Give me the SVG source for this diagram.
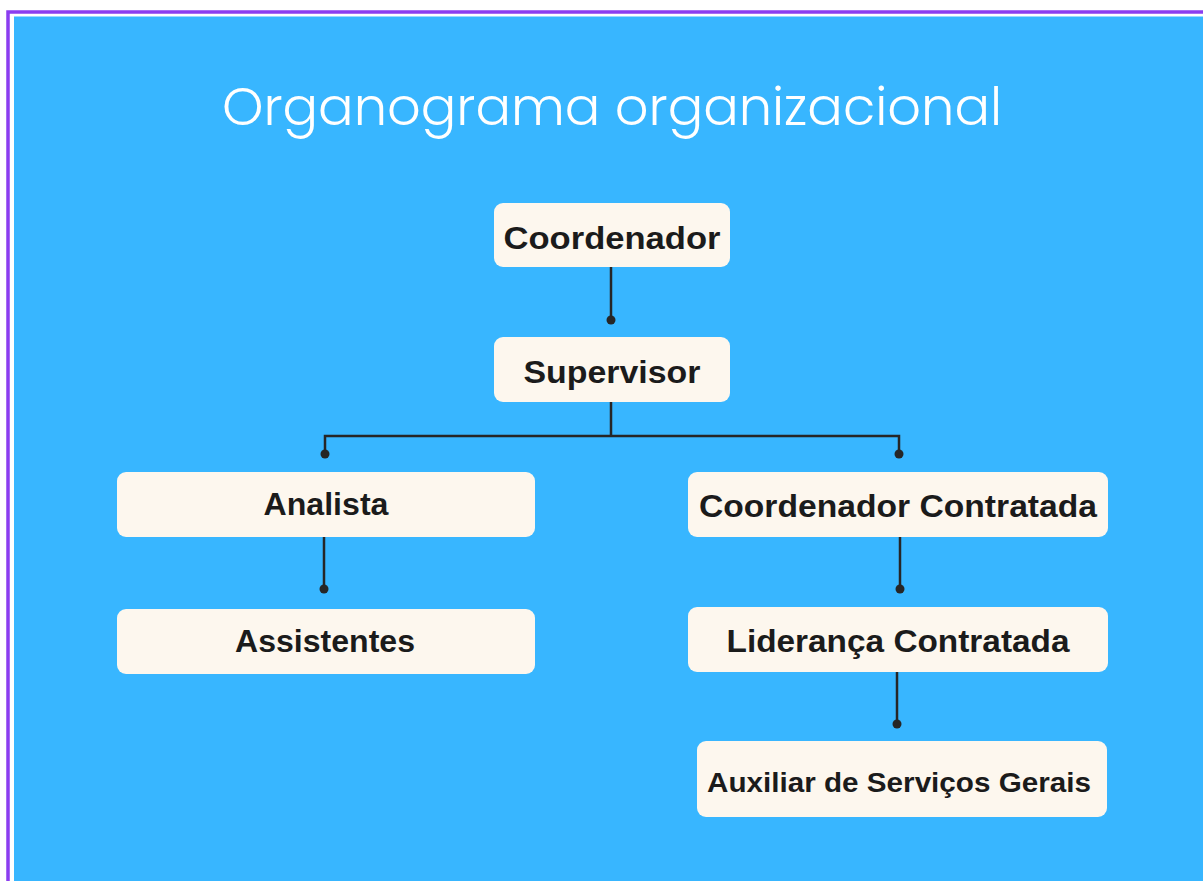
<svg xmlns="http://www.w3.org/2000/svg" width="1203" height="881" viewBox="0 0 1203 881">
<style>
.node rect{fill:#FDF7EE;}
.node text{font-family:"Liberation Sans",Arial,sans-serif;font-weight:bold;font-size:31px;fill:#1b1b1b;text-anchor:middle;}
.conn path{stroke:#262626;stroke-width:2.5;fill:none;}
.conn circle{fill:#262626;}
.title{font-family:Poppins,"Open Sans","Liberation Sans",sans-serif;font-weight:300;font-size:52px;fill:#ffffff;text-anchor:middle;}
</style>
<rect x="0" y="0" width="1203" height="881" fill="#ffffff"/>
<rect x="8" y="12" width="1210" height="880" fill="none" stroke="#8B3DF0" stroke-width="3.5"/>
<rect x="14" y="16.5" width="1189" height="865" fill="#38B6FF"/>
<text class="title" x="612" y="125" textLength="780" lengthAdjust="spacingAndGlyphs">Organograma organizacional</text>
<g class="conn">
<path d="M611 267V320"/><circle cx="611" cy="320" r="4.5"/>
<path d="M611 402V436M325 454V436H899V454"/><circle cx="325" cy="454" r="4.5"/><circle cx="899" cy="454" r="4.5"/>
<path d="M324 537V589"/><circle cx="324" cy="589" r="4.5"/>
<path d="M900 537V589"/><circle cx="900" cy="589" r="4.5"/>
<path d="M897 672V724"/><circle cx="897" cy="724" r="4.5"/>
</g>
<g class="node" id="coordenador"><rect x="494" y="203" width="236" height="64" rx="9"/><text x="612" y="249" textLength="217" lengthAdjust="spacingAndGlyphs">Coordenador</text></g>
<g class="node" id="supervisor"><rect x="494" y="337" width="236" height="65" rx="9"/><text x="612" y="383" textLength="177" lengthAdjust="spacingAndGlyphs">Supervisor</text></g>
<g class="node" id="analista"><rect x="117" y="472" width="418" height="65" rx="9"/><text x="326" y="515" textLength="125" lengthAdjust="spacingAndGlyphs">Analista</text></g>
<g class="node" id="assistentes"><rect x="117" y="609" width="418" height="65" rx="9"/><text x="325" y="652" textLength="180" lengthAdjust="spacingAndGlyphs">Assistentes</text></g>
<g class="node" id="coordenador-contratada"><rect x="688" y="472" width="420" height="65" rx="9"/><text x="898" y="517" textLength="398" lengthAdjust="spacingAndGlyphs">Coordenador Contratada</text></g>
<g class="node" id="lideranca-contratada"><rect x="688" y="607" width="420" height="65" rx="9"/><text x="898" y="652" textLength="343" lengthAdjust="spacingAndGlyphs">Liderança Contratada</text></g>
<g class="node" id="auxiliar"><rect x="697" y="741" width="410" height="76" rx="9"/><text x="899" y="792" font-size="28" textLength="384" lengthAdjust="spacingAndGlyphs" style="font-size:28px">Auxiliar de Serviços Gerais</text></g>
</svg>
